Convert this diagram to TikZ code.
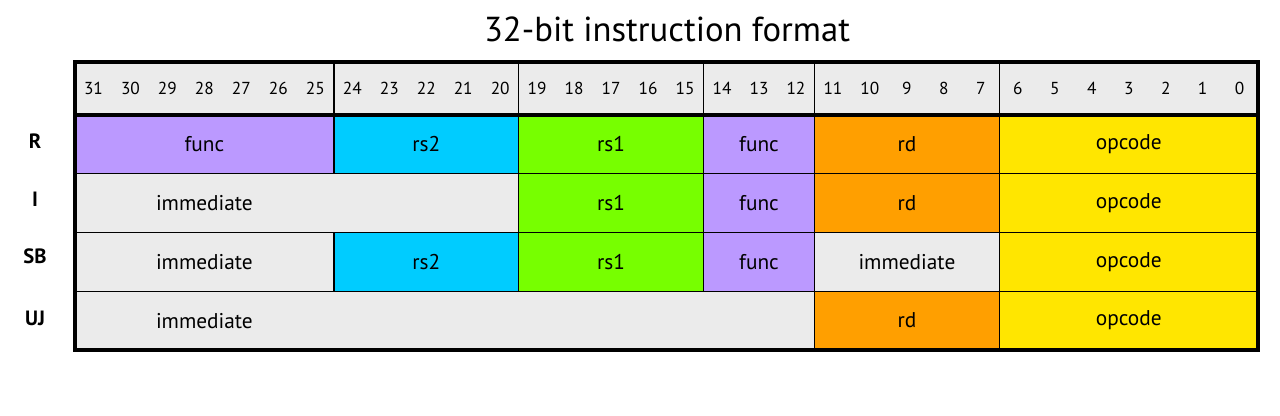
\documentclass[tikz,border=0pt]{standalone}
\usepackage{fontspec}
\setmainfont{PT Sans}
\usetikzlibrary{positioning}

\definecolor{funcc}{HTML}{BB99FF}
\definecolor{rstwoc}{HTML}{00CCFF}
\definecolor{rsonec}{HTML}{77FF00}
\definecolor{rdc}{HTML}{FF9F00}
\definecolor{opc}{HTML}{FFE600}
\definecolor{immc}{HTML}{EBEBEB}

\newcommand{\bitw}{27.73pt}

\tikzset{
  field/.style={rectangle, draw=black, line width=1.1pt, inner sep=0, outer sep=0,
    minimum height=44.06pt, minimum width={#1*\bitw},
    font=\fontsize{16}{18}\selectfont},
  frame/.style={draw=black, line width=2.6pt},
  num/.style={inner sep=0, font=\fontsize{13}{15}\selectfont},
  rowlbl/.style={inner sep=0, font=\fontsize{15.5}{17}\selectfont\bfseries},
  lbl/.style={inner sep=0, font=\fontsize{16}{18}\selectfont}
}

\begin{document}
\begin{tikzpicture}[x=0.75pt, y=-0.75pt]
  \useasboundingbox (0,0) rectangle (1280,415);

  \node[font=\fontsize{26}{30}\selectfont] (title) at (667,29) {32-bit instruction format};

  % bit numbers
  \node[field=32, fill=immc, minimum height=39.75pt, anchor=north west] (head) at (75,62) {};
  \foreach \b in {0,...,31}
    \node[num] (n\b) at ([xshift={(31-\b+0.5)*\bitw}]head.west) {\b};

  % R
  \node[field=7, fill=funcc, anchor=north west] (Rfunc) at (head.south west) {func};
  \node[field=5, fill=rstwoc, right=0pt of Rfunc] (Rrs2) {rs2};
  \node[field=5, fill=rsonec, right=0pt of Rrs2] (Rrs1) {rs1};
  \node[field=3, fill=funcc, right=0pt of Rrs1] (Rfunc3) {func};
  \node[field=5, fill=rdc, right=0pt of Rfunc3] (Rrd) {rd};
  \node[field=7, fill=opc, right=0pt of Rrd] (Rop) {opcode};

  % I
  \node[field=12, fill=immc, anchor=north west] (Iimm) at (Rfunc.south west) {};
  \node[lbl] (Iimmtxt) at ([xshift={3.5*\bitw}]Iimm.west) {immediate};
  \node[field=5, fill=rsonec, right=0pt of Iimm] (Irs1) {rs1};
  \node[field=3, fill=funcc, right=0pt of Irs1] (Ifunc3) {func};
  \node[field=5, fill=rdc, right=0pt of Ifunc3] (Ird) {rd};
  \node[field=7, fill=opc, right=0pt of Ird] (Iop) {opcode};

  % SB
  \node[field=7, fill=immc, anchor=north west] (SBimm) at (Iimm.south west) {immediate};
  \node[field=5, fill=rstwoc, right=0pt of SBimm] (SBrs2) {rs2};
  \node[field=5, fill=rsonec, right=0pt of SBrs2] (SBrs1) {rs1};
  \node[field=3, fill=funcc, right=0pt of SBrs1] (SBfunc3) {func};
  \node[field=5, fill=immc, right=0pt of SBfunc3] (SBimmb) {immediate};
  \node[field=7, fill=opc, right=0pt of SBimmb] (SBop) {opcode};

  % UJ
  \node[field=20, fill=immc, anchor=north west] (UJimm) at (SBimm.south west) {};
  \node[lbl] (UJimmtxt) at ([xshift={3.5*\bitw}]UJimm.west) {immediate};
  \node[field=5, fill=rdc, right=0pt of UJimm] (UJrd) {rd};
  \node[field=7, fill=opc, right=0pt of UJrd] (UJop) {opcode};

  % group lines in the header
  \foreach \f in {Rrs2, Rrs1, Rfunc3, Rrd, Rop}
    \draw[line width=1.1pt] (\f.north west) -- (\f.north west |- head.north);

  % frame
  \draw[frame] (head.south west) -- (head.south east);
  \draw[frame] (head.north west) rectangle (UJop.south east);

  % row names
  \node[rowlbl] (labR) at ([xshift=-30pt, yshift=2.5pt]Rfunc.west) {R};
  \node[rowlbl] (labI) at ([xshift=-30pt, yshift=3pt]Iimm.west) {I};
  \node[rowlbl] (labSB) at ([xshift=-30pt, yshift=4pt]SBimm.west) {SB};
  \node[rowlbl] (labUJ) at ([xshift=-30pt, yshift=2pt]UJimm.west) {UJ};
\end{tikzpicture}
\end{document}
